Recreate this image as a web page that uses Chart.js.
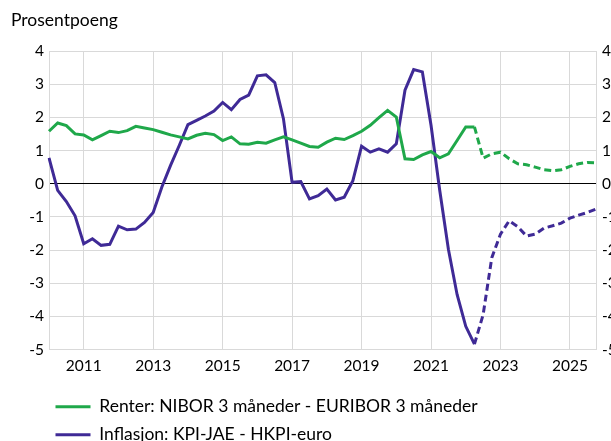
<!DOCTYPE html>
<html lang="no">
<head>
  <meta charset="UTF-8" />
  <title>Renter og inflasjon</title>
  <script src="https://cdn.jsdelivr.net/npm/chart.js"></script>
  <style>
    html, body { margin: 0; padding: 0; background: #fff; }
    .wrap { position: relative; width: 611px; height: 441px; }
    .unit {
      position: absolute; left: 11px; top: 9px;
      font-family: Lato, sans-serif; font-size: 17.5px; color: #000;
      line-height: 21px;
    }
  </style>
</head>
<body>
  <div class="wrap">
    <div class="unit">Prosentpoeng</div>
    <canvas id="chart" width="611" height="441"></canvas>
  </div>

  <script>
    // quarterly, 2010K1 - 2025K4
    const quarters = [];
    for (let y = 2010; y <= 2025; y++) {
      for (let q = 1; q <= 4; q++) quarters.push(y + "K" + q);
    }

    const renter = [
      1.58, 1.83, 1.75, 1.50, 1.47, 1.32, 1.45, 1.58,
      1.54, 1.60, 1.73, 1.68, 1.63, 1.55, 1.47, 1.41,
      1.35, 1.46, 1.52, 1.48, 1.30, 1.41, 1.20, 1.19,
      1.25, 1.22, 1.32, 1.41, 1.32, 1.22, 1.12, 1.10,
      1.25, 1.37, 1.33, 1.45, 1.58, 1.76, 1.99, 2.21,
      2.01, 0.75, 0.73, 0.87, 0.97, 0.78, 0.90, 1.30,
      1.71, 1.71, 0.77, 0.90, 0.95, 0.75, 0.60, 0.57,
      0.50, 0.42, 0.39, 0.42, 0.52, 0.60, 0.64, 0.63
    ];

    const inflasjon = [
      0.78, -0.20, -0.54, -0.97, -1.81, -1.66, -1.86, -1.83,
      -1.28, -1.39, -1.37, -1.17, -0.87, -0.10, 0.55, 1.15,
      1.78, 1.91, 2.04, 2.19, 2.45, 2.23, 2.54, 2.67,
      3.25, 3.28, 3.05, 1.96, 0.04, 0.06, -0.46, -0.36,
      -0.16, -0.49, -0.41, 0.09, 1.13, 0.95, 1.05, 0.95,
      1.20, 2.82, 3.44, 3.37, 1.76, -0.20, -1.98, -3.34,
      -4.30, -4.84, -3.95, -2.23, -1.52, -1.12, -1.30, -1.58,
      -1.52, -1.34, -1.27, -1.19, -1.04, -0.95, -0.87, -0.77
    ];

    const yTicks = [4, 3, 2, 1, 0, -1, -2, -3, -4, -5];
    const xLabelYears = [2011, 2013, 2015, 2017, 2019, 2021, 2023, 2025];
    const projStart = quarters.indexOf("2022K2"); // dashed from here

    const green = "#1fa84a";
    const purple = "#3f2a96";
    const gridGrey = "#d9d9d9";
    const font = { family: "Lato, sans-serif", size: 15.5 };

    function yearLabel(i) {
      const q = quarters[i];
      const yr = parseInt(q.slice(0, 4));
      return q.endsWith("K1") && xLabelYears.includes(yr) ? String(yr) : "";
    }

    const dashed = ctx => ctx.p0DataIndex >= projStart ? [7, 4] : undefined;

    // move the legend in under the plot, like the original
    const moveLegend = {
      id: "moveLegend",
      afterLayout(chart) {
        const lg = chart.legend;
        lg.left += 45; lg.right += 45;
        lg.top += 8; lg.bottom += 8;
      }
    };

    new Chart(document.getElementById("chart"), {
      type: "line",
      data: {
        labels: quarters,
        datasets: [
          {
            label: "Renter: NIBOR 3 måneder - EURIBOR 3 måneder",
            data: renter,
            borderColor: green,
            backgroundColor: green,
            borderWidth: 3,
            pointRadius: 0,
            tension: 0,
            segment: { borderDash: dashed }
          },
          {
            label: "Inflasjon: KPI-JAE - HKPI-euro",
            data: inflasjon,
            borderColor: purple,
            backgroundColor: purple,
            borderWidth: 3,
            pointRadius: 0,
            tension: 0,
            segment: { borderDash: dashed }
          }
        ]
      },
      plugins: [moveLegend],
      options: {
        responsive: false,
        animation: false,
        layout: { padding: { left: 0, top: 51, right: 0, bottom: -4.5 } },
        plugins: {
          tooltip: { enabled: false },
          legend: {
            position: "bottom",
            align: "start",
            labels: {
              color: "#000",
              font: { family: "Lato, sans-serif", size: 17.5 },
              boxWidth: 35,
              boxHeight: 3,
              padding: 10.5,
              generateLabels: chart => chart.data.datasets.map((ds, i) => ({
                text: ds.label,
                fillStyle: ds.borderColor,
                strokeStyle: ds.borderColor,
                lineWidth: 0,
                hidden: false,
                datasetIndex: i
              }))
            }
          }
        },
        scales: {
          x: {
            offset: false,
            afterFit: s => { s.height = 30; },
            grid: {
              drawTicks: false,
              color: ctx => (ctx.tick && ctx.tick.label) ? gridGrey : "transparent"
            },
            border: { color: gridGrey },
            ticks: {
              autoSkip: false,
              maxRotation: 0,
              padding: 7,
              color: "#000",
              font: font,
              callback: (v, i) => yearLabel(i)
            }
          },
          y: {
            min: -5,
            max: 4,
            afterFit: s => { s.width = 49; },
            afterBuildTicks: s => { s.ticks = yTicks.map(v => ({ value: v })); },
            grid: {
              drawTicks: false,
              color: ctx => ctx.tick && ctx.tick.value === 0 ? "#000" : gridGrey
            },
            border: { color: gridGrey },
            ticks: { padding: 5, color: "#000", font: font }
          },
          y2: {
            position: "right",
            display: true,
            min: -5,
            max: 4,
            afterFit: s => { s.width = 15; },
            afterBuildTicks: s => { s.ticks = yTicks.map(v => ({ value: v })); },
            grid: { drawOnChartArea: false, drawTicks: false },
            border: { color: gridGrey },
            ticks: { padding: 6, color: "#000", font: font }
          }
        }
      }
    });
  </script>
</body>
</html>
